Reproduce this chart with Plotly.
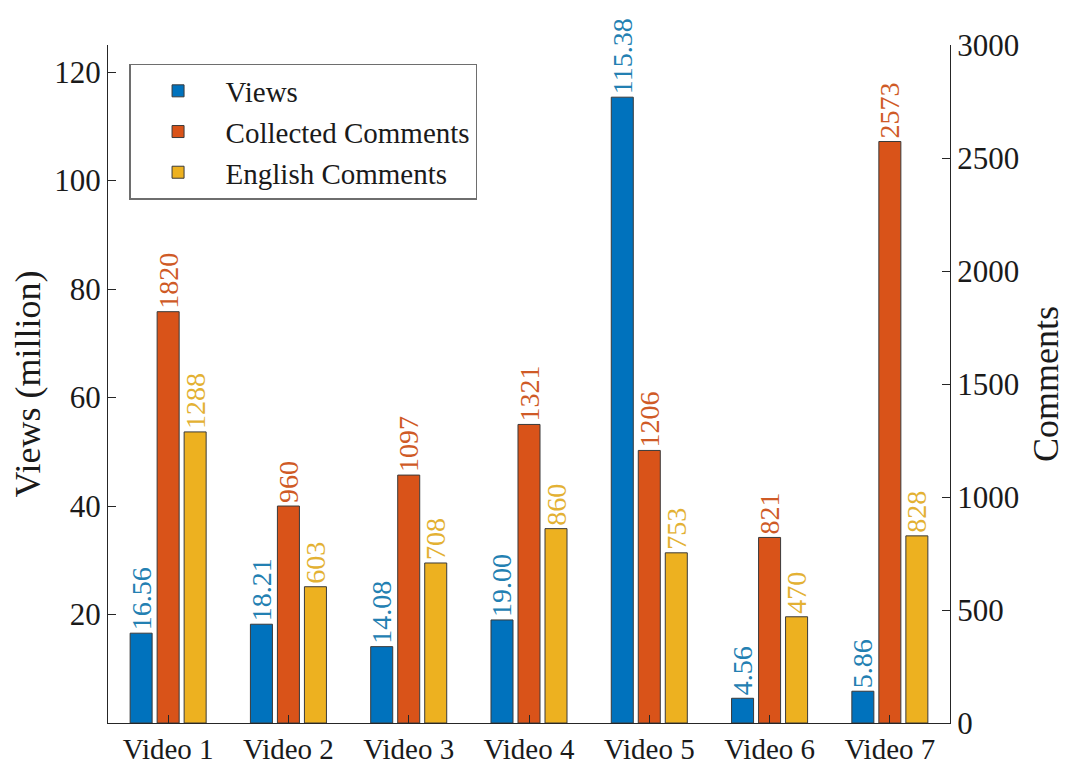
import plotly.graph_objects as go

categories = ["Video 1", "Video 2", "Video 3", "Video 4", "Video 5", "Video 6", "Video 7"]
views = [16.56, 18.21, 14.08, 19.00, 115.38, 4.56, 5.86]
collected = [1820, 960, 1097, 1321, 1206, 821, 2573]
english = [1288, 603, 708, 860, 753, 470, 828]
left_ticks = [20, 40, 60, 80, 100, 120]
right_ticks = [0, 500, 1000, 1500, 2000, 2500, 3000]

FONT = "Liberation Serif"
BLUE, ORANGE, YELLOW = "#0072BD", "#D95319", "#EDB120"
EDGE = "#3a3a3a"
W = 0.183
LBL = 28

fig = go.Figure()
fig.add_trace(go.Bar(
    x=categories, y=views, name="Views", yaxis="y",
    marker=dict(color=BLUE, line=dict(color=EDGE, width=1)),
    width=W, offset=-0.316,
    texttemplate="%{y:.2f}", textposition="outside", textangle=-90,
    textfont=dict(family=FONT, size=LBL, color="#2380B2"),
    cliponaxis=False, constraintext="none",
))
fig.add_trace(go.Bar(
    x=categories, y=collected, name="Collected Comments", yaxis="y2",
    marker=dict(color=ORANGE, line=dict(color=EDGE, width=1)),
    width=W, offset=-0.0915,
    texttemplate="%{y}", textposition="outside", textangle=-90,
    textfont=dict(family=FONT, size=LBL, color="#CF5A26"),
    cliponaxis=False, constraintext="none",
))
fig.add_trace(go.Bar(
    x=categories, y=english, name="English Comments", yaxis="y2",
    marker=dict(color=YELLOW, line=dict(color=EDGE, width=1)),
    width=W, offset=0.133,
    texttemplate="%{y}", textposition="outside", textangle=-90,
    textfont=dict(family=FONT, size=LBL, color="#E3B133"),
    cliponaxis=False, constraintext="none",
))

axis_col = "#262626"
TICKF = dict(family=FONT, size=31, color="#1a1a1a")
fig.update_layout(
    width=1060, height=758,
    margin=dict(l=100, r=118, t=37, b=43, autoexpand=False),
    paper_bgcolor="white", plot_bgcolor="white",
    font=dict(family=FONT, size=30, color="#1a1a1a"),
    barmode="overlay",
    showlegend=True,
    legend=dict(
        x=0.025, y=0.972, xanchor="left", yanchor="top",
        bgcolor="white", bordercolor="#6e6e6e", borderwidth=1.5,
        font=dict(family=FONT, size=29, color="#1a1a1a"),
        tracegroupgap=0, itemwidth=85,
    ),
    xaxis=dict(
        type="category", range=[-0.5, 6.5], automargin=False,
        showline=True, linecolor=axis_col, linewidth=1.2,
        ticks="inside", ticklen=8, tickcolor=axis_col,
        tickfont=dict(family=FONT, size=29, color="#1a1a1a"),
        showgrid=False, zeroline=False, mirror=False,
    ),
    yaxis=dict(
        range=[0, 125], tickvals=left_ticks, automargin=False,
        showline=True, linecolor=axis_col, linewidth=1.2,
        ticks="inside", ticklen=8, tickcolor=axis_col,
        tickfont=TICKF,
        title=dict(text="Views (million)", font=dict(family=FONT, size=36), standoff=12),
        showgrid=False, zeroline=False,
    ),
    yaxis2=dict(
        overlaying="y", side="right", anchor="x", automargin=False,
        range=[0, 3000], tickvals=right_ticks,
        showline=True, linecolor=axis_col, linewidth=1.2,
        ticks="inside", ticklen=8, tickcolor=axis_col,
        tickfont=TICKF,
        title=dict(text="Comments", font=dict(family=FONT, size=36), standoff=14),
        showgrid=False, zeroline=False,
    ),
)

fig.write_html("out.html")
